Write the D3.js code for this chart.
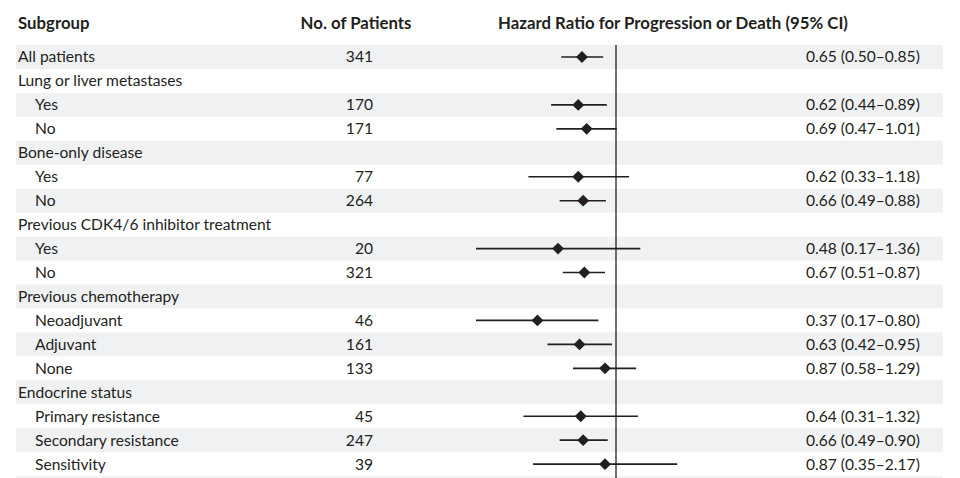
<!DOCTYPE html>
<html>
<head>
<meta charset="utf-8">
<script src="https://cdn.jsdelivr.net/npm/d3@7"></script>
<style>
  body { margin: 0; background: #fff; }
  text { font-family: Lato, "Open Sans", sans-serif; fill: #231f20; }
</style>
</head>
<body>
<div id="chart"></div>
<script>
// rows of the forest plot, top to bottom
const subgroups = [
  "All patients", "Lung or liver metastases", "Yes", "No",
  "Bone-only disease", "Yes", "No",
  "Previous CDK4/6 inhibitor treatment", "Yes", "No",
  "Previous chemotherapy", "Neoadjuvant", "Adjuvant", "None",
  "Endocrine status", "Primary resistance", "Secondary resistance", "Sensitivity"
];
const indented = [0, 0, 1, 1, 0, 1, 1, 0, 1, 1, 0, 1, 1, 1, 0, 1, 1, 1];
const patients = [341, null, 170, 171, null, 77, 264, null, 20, 321, null, 46, 161, 133, null, 45, 247, 39];
const hr    = [0.65, null, 0.62, 0.69, null, 0.62, 0.66, null, 0.48, 0.67, null, 0.37, 0.63, 0.87, null, 0.64, 0.66, 0.87];
const ciLow = [0.50, null, 0.44, 0.47, null, 0.33, 0.49, null, 0.17, 0.51, null, 0.17, 0.42, 0.58, null, 0.31, 0.49, 0.35];
const ciHigh = [0.85, null, 0.89, 1.01, null, 1.18, 0.88, null, 1.36, 0.87, null, 0.80, 0.95, 1.29, null, 1.32, 0.90, 2.17];

const width = 960, height = 478;
const fmt = d3.format(".2f");

const svg = d3.select("#chart").append("svg")
  .attr("width", width)
  .attr("height", height);

const rows = subgroups.map((s, i) => ({
  label: s, indent: indented[i], n: patients[i],
  hr: hr[i], lo: ciLow[i], hi: ciHigh[i], i: i
}));

// row positions
const y = d3.scaleBand()
  .domain(d3.range(rows.length + 1))
  .range([45, 45 + 23.95 * (rows.length + 1)])
  .padding(0);

// hazard ratio axis (log), 1.0 sits at x=616
const x = d3.scaleLog()
  .domain([0.1, 3])
  .range([616 - 79 * Math.log(10), 616 + 79 * Math.log(3)]);

// shaded bands on every other row
svg.append("g")
  .selectAll("rect")
  .data(d3.range(0, rows.length + 1, 2))
  .enter()
  .append("rect")
  .attr("x", 16)
  .attr("y", d => y(d))
  .attr("width", 943 - 16)
  .attr("height", y.bandwidth())
  .style("fill", "#f0f1f2");

// header
const header = svg.append("g").style("font-weight", "bold").style("font-size", "16.8px");
header.append("text").attr("x", 18).attr("y", 29).text("Subgroup");
header.append("text").attr("x", 356).attr("y", 29).attr("text-anchor", "middle").text("No. of Patients");
header.append("text").attr("x", 673).attr("y", 29).attr("text-anchor", "middle")
  .text("Hazard Ratio for Progression or Death (95% CI)");

// reference line at HR = 1
svg.append("line")
  .attr("x1", x(1)).attr("x2", x(1))
  .attr("y1", 45).attr("y2", height)
  .attr("stroke", "#231f20")
  .attr("stroke-width", 1.3);

const rowG = svg.append("g")
  .selectAll("g")
  .data(rows)
  .enter()
  .append("g")
  .attr("transform", d => `translate(0,${y(d.i) + y.bandwidth() / 2})`);

rowG.append("text")
  .attr("x", d => d.indent ? 35 : 18)
  .attr("y", 5.5)
  .style("font-size", "15.6px")
  .text(d => d.label);

rowG.filter(d => d.n != null)
  .append("text")
  .attr("x", 373)
  .attr("y", 5.5)
  .attr("text-anchor", "end")
  .style("font-size", "15.6px")
  .text(d => d.n);

const est = rowG.filter(d => d.hr != null);

est.append("line")
  .attr("x1", d => x(d.lo))
  .attr("x2", d => x(d.hi))
  .attr("stroke", "#231f20")
  .attr("stroke-width", 1.6);

est.append("path")
  .attr("d", d3.symbol().type(d3.symbolDiamond2).size(90))
  .attr("transform", d => `translate(${x(d.hr)},0)`)
  .style("fill", "#231f20");

est.append("text")
  .attr("x", 806)
  .attr("y", 5.5)
  .style("font-size", "15.6px")
  .text(d => `${fmt(d.hr)} (${fmt(d.lo)}\u2013${fmt(d.hi)})`);
</script>
</body>
</html>
